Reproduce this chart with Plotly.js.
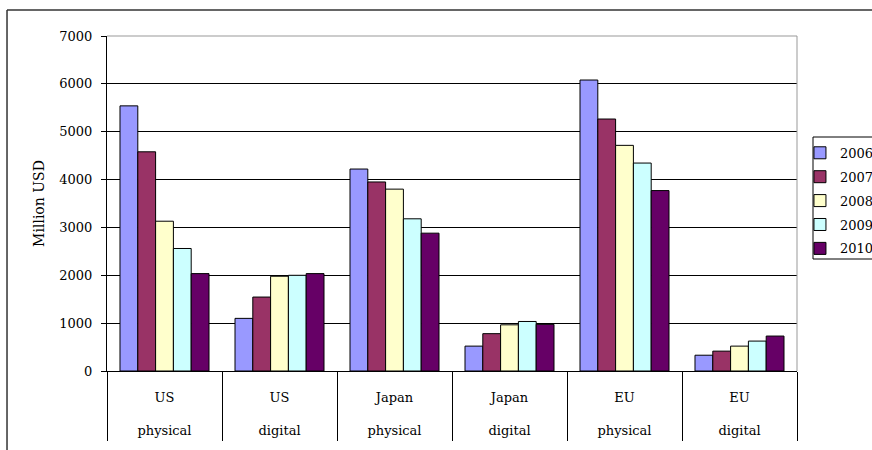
<!DOCTYPE html>
<html>
<head>
<meta charset="utf-8">
<script src="https://cdn.plot.ly/plotly-3.0.1.min.js"></script>
<style>html,body{margin:0;padding:0;background:#fff;overflow:hidden;}#chart{width:900px;height:450px;}</style>
</head>
<body>
<div id="chart"></div>
<script>
// ---- data ----
var regions = ["US", "US", "Japan", "Japan", "EU", "EU"];
var formats = ["physical", "digital", "physical", "digital", "physical", "digital"];
var years = ["2006", "2007", "2008", "2009", "2010"];
var v2006 = [5540, 1100, 4220, 520, 6080, 330];
var v2007 = [4580, 1545, 3950, 780, 5265, 415];
var v2008 = [3130, 1980, 3800, 965, 4715, 520];
var v2009 = [2560, 2000, 3180, 1035, 4345, 625];
var v2010 = [2035, 2035, 2880, 975, 3770, 730];
var yTicks = [0, 1000, 2000, 3000, 4000, 5000, 6000, 7000];

var colors = ["#9999FF", "#993366", "#FFFFCC", "#CCFFFF", "#660066"];
var series = [v2006, v2007, v2008, v2009, v2010];

var cats = regions.map(function (r, i) { return r + " " + formats[i]; });
var ticktext = regions.map(function (r, i) { return r + "<br>\u00a0<br>" + formats[i]; });

var traces = series.map(function (vals, k) {
  return {
    type: "bar",
    name: years[k],
    legendgroup: years[k],
    x: cats,
    y: vals,
    marker: { color: colors[k], line: { color: "#000", width: 1 } },
    hoverinfo: "skip"
  };
});

var font = { family: "DejaVu Serif", size: 13, color: "#000" };

var shapes = [
  // outer chart frame
  { type: "line", xref: "paper", yref: "paper", x0: -0.1449, x1: 1.2, y0: 1.0776, y1: 1.0776, line: { color: "#333", width: 1.5 } },
  { type: "line", xref: "paper", yref: "paper", x0: -0.1449, x1: -0.1449, y0: 1.0776, y1: -0.3, line: { color: "#333", width: 1.5 } },
  // plot area border (grey, top and right)
  { type: "line", xref: "paper", yref: "paper", x0: 0, x1: 1, y0: 1, y1: 1, line: { color: "#999", width: 1 }, layer: "above" },
  { type: "line", xref: "paper", yref: "paper", x0: 1, x1: 1, y0: 1, y1: 0, line: { color: "#999", width: 1 }, layer: "above" },
  // legend box
  { type: "rect", xref: "paper", yref: "paper", x0: 1.0232, x1: 1.2, y0: 0.3343, y1: 0.6985, line: { color: "#000", width: 1 } }
];

var layout = {
  width: 900,
  height: 450,
  margin: { l: 107, r: 103, t: 36, b: 79, pad: 0 },
  paper_bgcolor: "#fff",
  plot_bgcolor: "#fff",
  font: font,
  barmode: "group",
  bargap: 0.226,
  bargroupgap: 0,
  showlegend: true,
  legend: {
    x: 1.0043, xanchor: "left",
    y: 0.696, yanchor: "top",
    bgcolor: "rgba(0,0,0,0)",
    borderwidth: 0,
    font: { family: "DejaVu Serif", size: 13, color: "#000" },
    tracegroupgap: 4
  },
  xaxis: {
    type: "category",
    tickvals: cats,
    ticktext: ticktext,
    showline: true,
    linecolor: "#000",
    linewidth: 1,
    ticks: "outside",
    tickson: "boundaries",
    ticklen: 69,
    tickcolor: "#000",
    tickwidth: 1,
    ticklabelstandoff: 14,
    showgrid: false,
    zeroline: false,
    tickfont: { family: "DejaVu Serif", size: 13, color: "#000" },
    automargin: false,
    fixedrange: true
  },
  yaxis: {
    range: [0, 7000],
    tickvals: yTicks,
    ticktext: yTicks.map(String),
    showgrid: true,
    gridcolor: "#000",
    gridwidth: 1,
    showline: true,
    linecolor: "#000",
    linewidth: 1,
    ticks: "outside",
    ticklen: 5,
    tickcolor: "#000",
    ticklabelstandoff: 6,
    zeroline: false,
    tickfont: { family: "DejaVu Serif", size: 13, color: "#000" },
    title: { text: "Million USD", font: { family: "DejaVu Serif", size: 14, color: "#000" }, standoff: 11 },
    automargin: false,
    fixedrange: true
  },
  shapes: shapes
};

Plotly.newPlot("chart", traces, layout, { displayModeBar: false, staticPlot: true });
</script>
</body>
</html>
